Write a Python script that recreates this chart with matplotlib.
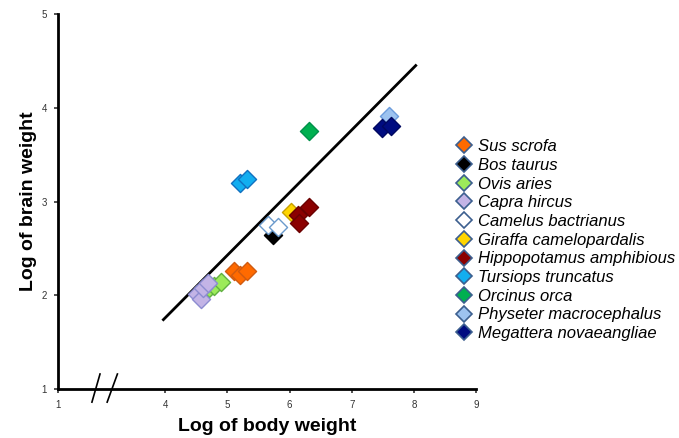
import numpy as np
import matplotlib
matplotlib.use("Agg")
import matplotlib.pyplot as plt
import matplotlib.transforms as mtransforms

plt.rcParams['font.family'] = ['Liberation Sans', 'DejaVu Sans']

# species data (log body weight, log brain weight)
species = ["Sus scrofa", "Bos taurus", "Ovis aries", "Capra hircus",
           "Camelus bactrianus", "Giraffa camelopardalis",
           "Hippopotamus amphibious", "Tursiops truncatus", "Orcinus orca",
           "Physeter macrocephalus", "Megattera novaeangliae"]
body = [[5.10, 5.21, 5.32],
        [5.74],
        [4.71, 4.78, 4.89],
        [4.51, 4.58, 4.60, 4.68],
        [5.66, 5.81],
        [6.02],
        [6.13, 6.15, 6.32],
        [5.21, 5.32],
        [6.32],
        [7.60],
        [7.48, 7.63]]
brain = [[2.26, 2.22, 2.26],
         [2.64],
         [2.08, 2.10, 2.14],
         [2.01, 1.96, 2.08, 2.13],
         [2.75, 2.73],
         [2.89],
         [2.86, 2.77, 2.94],
         [3.20, 3.24],
         [3.75],
         [3.91],
         [3.78, 3.81]]
fill = ["#FF6A00", "#000000", "#9CEB5A", "#C3B4E6", "#FFFFFF", "#FFD500",
        "#8B0000", "#12AEF0", "#00B050", "#9DC3F0", "#000C80"]
edge = ["#D05A10", "#000000", "#60B040", "#8C8CD0", "#6A9ACC", "#C8A000",
        "#6A0000", "#1070C0", "#00904A", "#6C9CDC", "#000860"]

# regression line endpoints
fit_x = [3.97, 8.03]
fit_y = [1.74, 4.45]

xticks = [2.274, 4, 5, 6, 7, 8, 9]
xticklabels = ["1", "4", "5", "6", "7", "8", "9"]
yticks = [1, 2, 3, 4, 5]

fig = plt.figure(figsize=(6.79, 4.38), dpi=100)
ax = fig.add_axes([58/679, 1-389/438, (476-58)/679, (389-14)/438])

ax.plot(fit_x, fit_y, color="black", lw=2, zorder=2)

for name, bx, by, fc, ec in zip(species, body, brain, fill, edge):
    ax.scatter(bx, by, marker="D", s=85, facecolor=fc, edgecolor=ec,
               linewidth=1, zorder=3)

ax.set_xlim(2.274, 9)
ax.set_ylim(1, 5)
ax.set_xticks(xticks)
ax.set_xticklabels(xticklabels)
ax.set_yticks(yticks)
ax.tick_params(labelsize=7, length=3, width=1.2, colors="#333333", pad=5)
for s in ["top", "right"]:
    ax.spines[s].set_visible(False)
for s in ["left", "bottom"]:
    ax.spines[s].set_linewidth(2)

ax.set_xlabel("Log of body weight", fontsize=14, fontweight="bold", labelpad=6)
ax.set_ylabel("Log of brain weight", fontsize=14, fontweight="bold", labelpad=3)

# axis break marks
trans = mtransforms.blended_transform_factory(ax.transData, ax.transAxes)
for x0, x1 in [(2.82, 2.95), (3.065, 3.23)]:
    ax.plot([x0, x1], [-0.035, 0.04], color="black", lw=1.2,
            transform=trans, clip_on=False)

handles = [plt.Line2D([], [], marker="D", ls="none", markersize=8,
                      markerfacecolor=fc, markeredgecolor="#3C5F8F",
                      markeredgewidth=1.2) for fc in fill]
fig.legend(handles, species, loc="upper left",
           bbox_to_anchor=(447/679, 1-131/438), frameon=False,
           prop={"style": "italic", "size": 12}, handletextpad=0.38,
           labelspacing=0.22, handlelength=1.0, borderpad=0)

fig.savefig("out.png", dpi=100)
